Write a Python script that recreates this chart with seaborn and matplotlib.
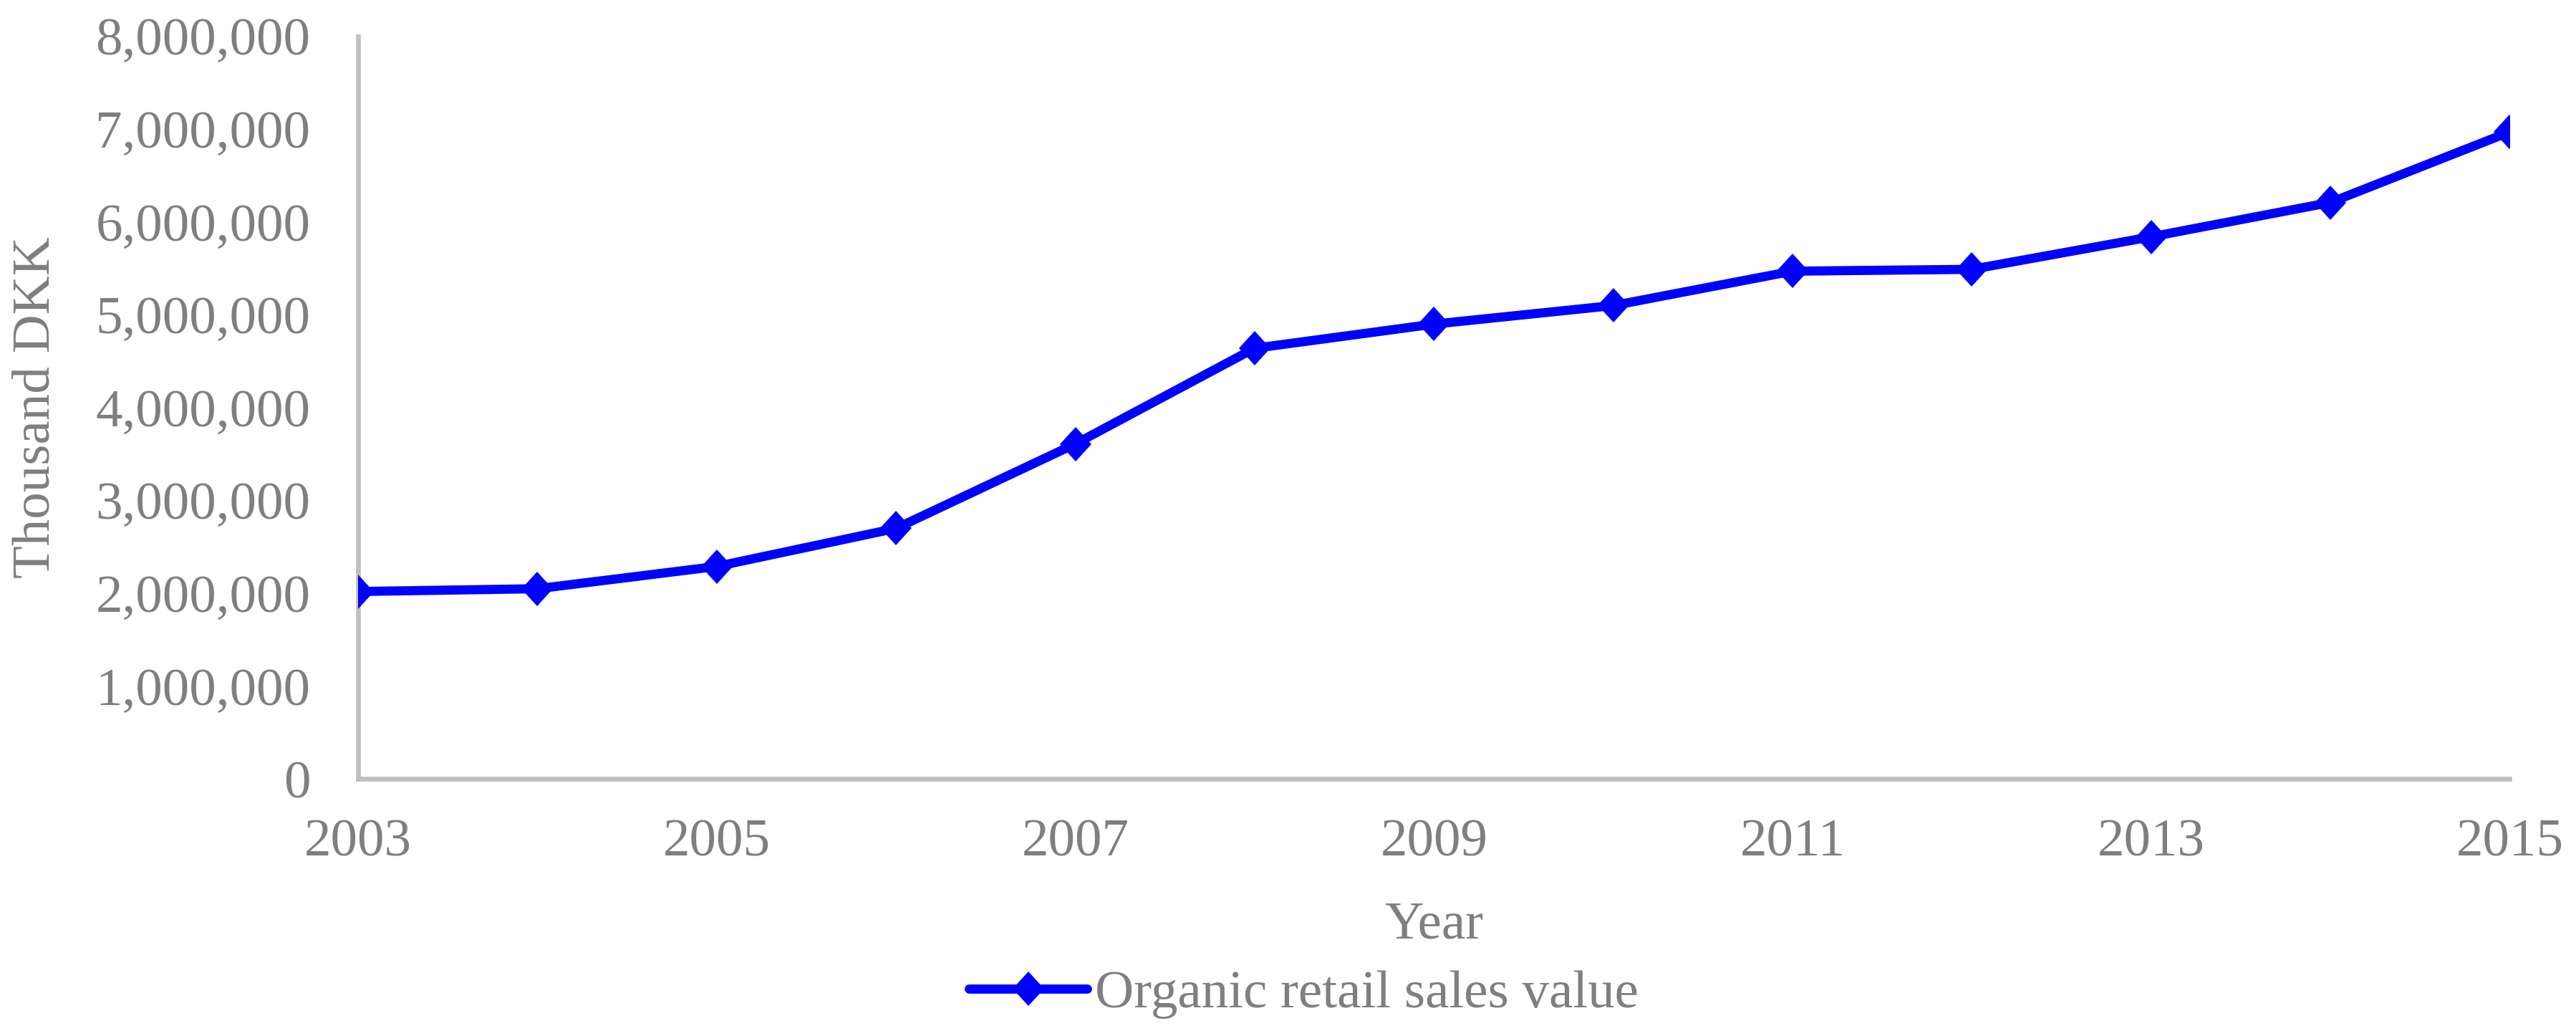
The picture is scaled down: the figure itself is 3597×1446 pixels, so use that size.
import matplotlib
matplotlib.use("Agg")
import matplotlib.pyplot as plt
import matplotlib.ticker as mticker
from matplotlib.markers import MarkerStyle
from matplotlib.transforms import Affine2D
import seaborn as sns
import pandas as pd

# values (thousand DKK)
years = [2003, 2004, 2005, 2006, 2007, 2008, 2009, 2010, 2011, 2012, 2013, 2014, 2015]
sales = [2020000, 2050000, 2290000, 2700000, 3610000, 4640000, 4900000,
         5100000, 5470000, 5490000, 5840000, 6210000, 6970000]
series_name = "Organic retail sales value"
year_ticks = [2003, 2005, 2007, 2009, 2011, 2013, 2015]
y_ticks = [0, 1000000, 2000000, 3000000, 4000000, 5000000, 6000000, 7000000, 8000000]

df = pd.DataFrame({"Year": years, "Value": sales, "Series": series_name})

sns.set_style("white")
plt.rcParams['font.family'] = ['Liberation Serif', 'DejaVu Serif']

text_color = "#7f7f7f"
spine_color = "#bfbfbf"
line_color = "#0000ff"
fs = 27
diamond = MarkerStyle("D", transform=Affine2D().scale(0.92, 1.0))

fig = plt.figure(figsize=(17.99, 7.23), dpi=200)
ax = fig.add_axes([0.139, 0.248, 0.835, 0.717])

sns.lineplot(data=df, x="Year", y="Value", hue="Series", palette=[line_color],
             marker=diamond, markersize=12.2, markeredgewidth=0, linewidth=4.6,
             ax=ax, legend=False)

ax.set_xlim(2003, 2015)
ax.set_ylim(0, 8000000)
ax.set_xticks(year_ticks)
ax.set_yticks(y_ticks)
ax.yaxis.set_major_formatter(mticker.FuncFormatter(lambda v, p: f"{int(v):,}"))

ax.tick_params(axis='both', length=0, labelsize=fs, labelcolor=text_color)
ax.tick_params(axis='x', pad=20)
ax.tick_params(axis='y', pad=24)

for side in ["top", "right"]:
    ax.spines[side].set_visible(False)
for side in ["left", "bottom"]:
    ax.spines[side].set_color(spine_color)
    ax.spines[side].set_linewidth(2.4)
    ax.spines[side].set_zorder(0)

ax.set_xlabel("Year", fontsize=fs, color=text_color, va="center")
ax.xaxis.set_label_coords(0.5, -0.197)
ax.set_ylabel("Thousand DKK", fontsize=fs, color=text_color, va="center")
ax.yaxis.set_label_coords(-0.1497, 0.5)

handle = plt.Line2D([], [], color=line_color, marker=diamond, markersize=12.2,
                    markeredgewidth=0, linewidth=4.6)
fig.legend([handle], [series_name], loc="center", bbox_to_anchor=(0.506, 0.04),
           frameon=False, fontsize=fs, labelcolor=text_color,
           handlelength=2.2, handletextpad=0.15)

fig.savefig("out.png", dpi=200, facecolor="white")
